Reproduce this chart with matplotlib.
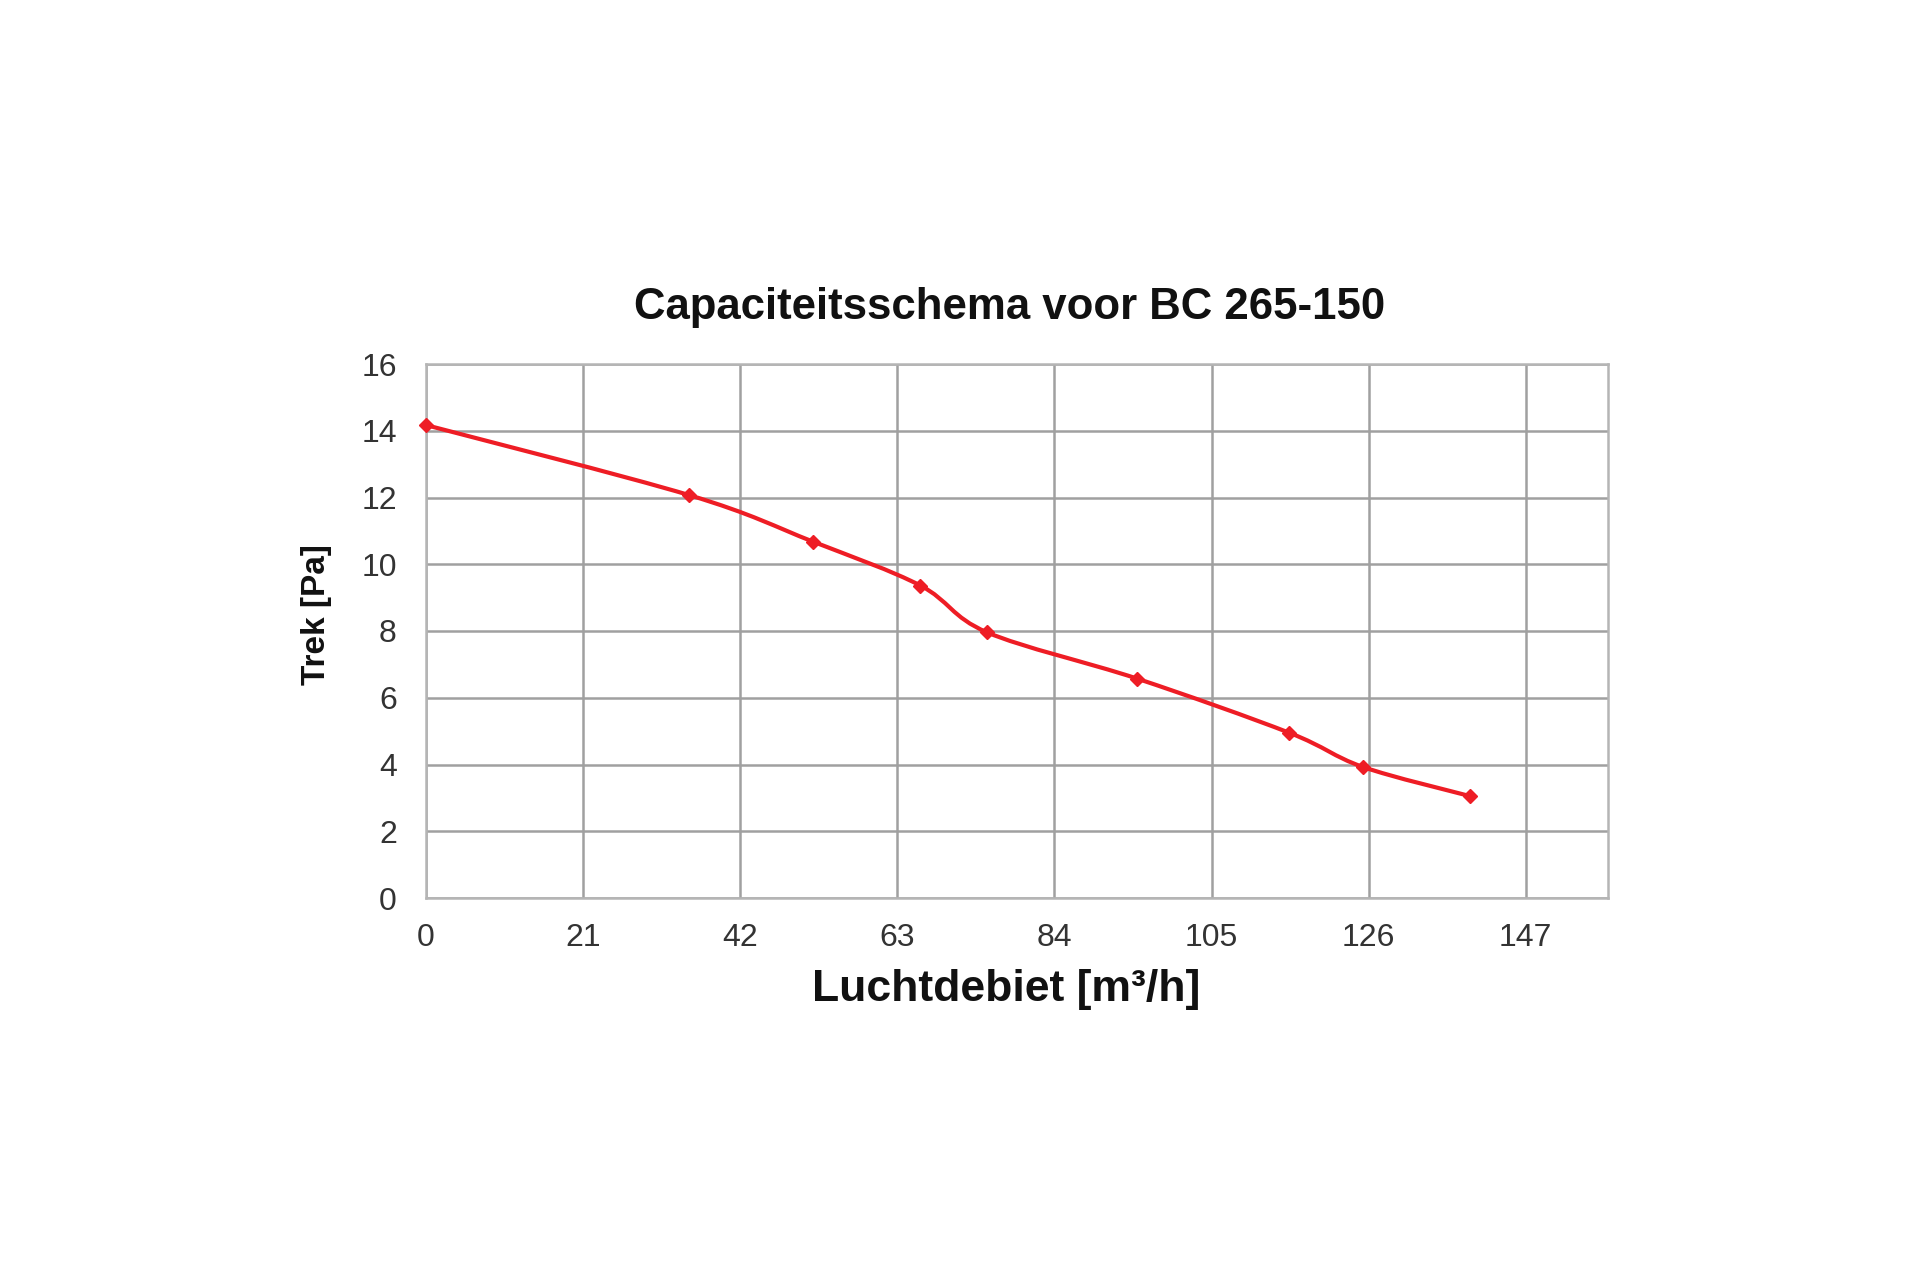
import numpy as np
import matplotlib
matplotlib.use('Agg')
import matplotlib.pyplot as plt
from matplotlib.path import Path
from matplotlib.patches import PathPatch

# values
flow = [0, 35.2, 51.7, 66.1, 75.0, 95.1, 115.4, 125.2, 139.6]   # m3/h
draft = [14.17, 12.07, 10.68, 9.36, 7.96, 6.57, 4.95, 3.93, 3.05]  # Pa
x_ticks = [0, 21, 42, 63, 84, 105, 126, 147]
y_ticks = [0, 2, 4, 6, 8, 10, 12, 14, 16]

title = 'Capaciteitsschema voor BC 265-150'
xlabel = 'Luchtdebiet [m³/h]'
ylabel = 'Trek [Pa]'

red = '#ee1d25'
grid_col = '#a0a0a0'

plt.rcParams['font.family'] = ['Liberation Sans', 'DejaVu Sans']

fig = plt.figure(figsize=(19.2, 12.8), dpi=100)
ax = fig.add_axes([426/1920, 1 - 898/1280, (1608 - 426)/1920, (898 - 364)/1280])

ax.set_xlim(0, 158)
ax.set_ylim(0, 16)
ax.set_xticks(x_ticks)
ax.set_yticks(y_ticks)
ax.grid(True, color=grid_col, linewidth=1.8)
ax.set_axisbelow(True)
for s in ax.spines.values():
    s.set_color('#b5b5b5')
    s.set_linewidth(1.8)
ax.tick_params(length=0, labelsize=23, labelcolor='#333333')
ax.tick_params(axis='x', pad=18)
ax.tick_params(axis='y', pad=21)

# smoothed line like the spreadsheet "smooth line" option (bezier through the points)
pts = np.column_stack([flow, draft])
n = len(pts)
verts = [pts[0]]
codes = [Path.MOVETO]
for i in range(n - 1):
    p0 = pts[max(i - 1, 0)]
    p1 = pts[i]
    p2 = pts[i + 1]
    p3 = pts[min(i + 2, n - 1)]
    c1 = p1 + (p2 - p0) / 6
    c2 = p2 - (p3 - p1) / 6
    verts += [c1, c2, p2]
    codes += [Path.CURVE4] * 3
ax.add_patch(PathPatch(Path(verts, codes), facecolor='none', edgecolor=red,
                       linewidth=3, zorder=3, clip_on=False))
ax.plot(flow, draft, linestyle='none', marker='D', markersize=7,
        color=red, zorder=4, clip_on=False)

fig.text(1010/1920, 1 - 307/1280, title, ha='center', va='center',
         fontsize=31.5, fontweight='bold', color='#111111')
fig.text(1006/1920, 1 - 990/1280, xlabel, ha='center', va='center',
         fontsize=32, fontweight='bold', color='#111111')
fig.text(316/1920, 1 - 615/1280, ylabel, ha='center', va='center',
         rotation=90, fontsize=24, fontweight='bold', color='#111111')

fig.savefig('out.png', dpi=100, facecolor='white')
